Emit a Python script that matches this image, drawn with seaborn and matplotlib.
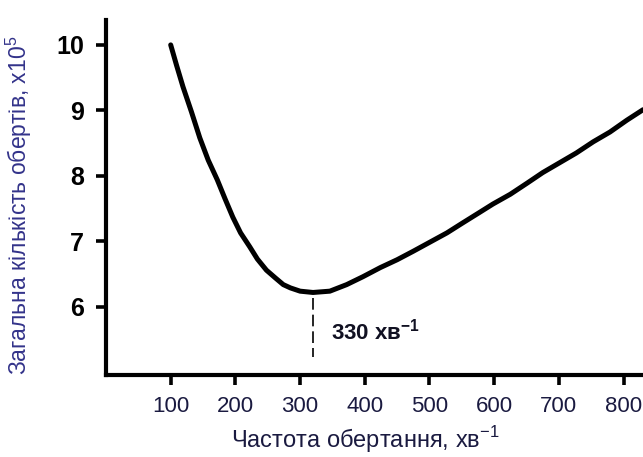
import matplotlib
matplotlib.use("Agg")
import matplotlib.pyplot as plt
import seaborn as sns
import pandas as pd

# Data
rpm = [100, 109, 119, 132, 145, 158, 172, 184, 196, 208, 222, 234, 248, 262, 274, 285,
       300, 320, 346, 372, 397, 424, 450, 475, 501, 527, 551, 577, 598, 625, 651, 675,
       701, 727, 753, 779, 805, 830]
total_rev = [10.00, 9.69, 9.36, 8.98, 8.58, 8.24, 7.94, 7.65, 7.37, 7.13, 6.92, 6.73, 6.56,
             6.44, 6.34, 6.29, 6.24, 6.22, 6.24, 6.34, 6.46, 6.60, 6.72, 6.85, 6.99, 7.13,
             7.28, 7.44, 7.57, 7.72, 7.89, 8.05, 8.20, 8.35, 8.52, 8.67, 8.85, 9.01]
x_ticks = [100, 200, 300, 400, 500, 600, 700, 800]
y_ticks = [6, 7, 8, 9, 10]
opt_x = [320, 320]
opt_y = [6.14, 5.24]
opt_label = "330 хв$^{\\mathbf{-1}}$"

df = pd.DataFrame({"rpm": rpm, "total": total_rev})

sns.set_style("ticks")
plt.rcParams["font.family"] = ["Liberation Sans", "DejaVu Sans"]
plt.rcParams["mathtext.fontset"] = "custom"
plt.rcParams["mathtext.rm"] = "Liberation Sans"
plt.rcParams["mathtext.bf"] = "Liberation Sans:bold"

fig = plt.figure(figsize=(6.43, 4.57), dpi=100)
ax = fig.add_axes([106 / 643, 82 / 457, 537 / 643, 355 / 457])

sns.lineplot(data=df, x="rpm", y="total", ax=ax, color="black", linewidth=3.6,
             sort=False, estimator=None)
ax.plot(opt_x, opt_y, color="black", linewidth=1.2, linestyle=(0, (7, 3)))
ax.text(348, 5.62, opt_label, fontsize=16, fontweight="bold", va="center", ha="left",
        color="#111122")

ax.set_xlim(0, 830)
ax.set_ylim(4.96, 10.38)
ax.set_xticks(x_ticks)
ax.set_yticks(y_ticks)
ax.set_xticklabels([str(v) for v in x_ticks], fontsize=16, color="#1a1a40")
ax.set_yticklabels([str(v) for v in y_ticks], fontsize=18, fontweight="bold", color="black")

sns.despine(ax=ax)
for s in ["left", "bottom"]:
    ax.spines[s].set_linewidth(3.0)
    ax.spines[s].set_color("black")
ax.tick_params(axis="both", direction="out", length=7, width=2.6, color="black")
ax.tick_params(axis="x", pad=8)
ax.tick_params(axis="y", pad=9)

ax.set_xlabel("Частота обертання, хв$^{-1}$", fontsize=17, color="#1a1a40", labelpad=5)
ax.xaxis.label.set_x(0.483)
ax.set_ylabel("Загальна кількість обертів, х10$^{5}$", fontsize=16.5, color="#33338a")
ax.yaxis.set_label_coords(-0.135, 0.478)

fig.savefig("out.png", dpi=100)
